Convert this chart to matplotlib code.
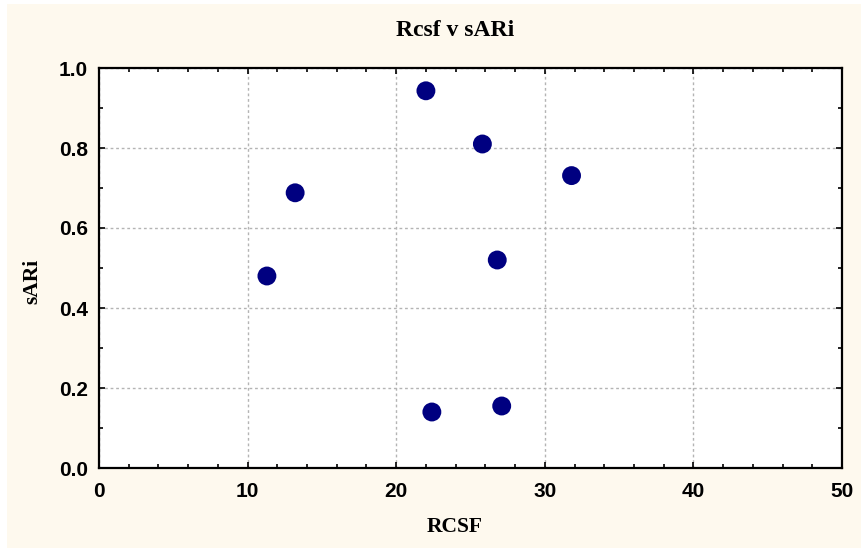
import numpy as np
import matplotlib.pyplot as plt
from matplotlib.patches import Rectangle
from matplotlib.ticker import MultipleLocator

rcsf = [11.3, 13.2, 22.0, 25.8, 31.8, 26.8, 22.4, 27.1]
sari = [0.48, 0.688, 0.943, 0.81, 0.731, 0.52, 0.14, 0.155]

fondo = '#FEF9EE'
W, H = 862, 548

fig = plt.figure(figsize=(8.62, 5.48), dpi=100, facecolor='white')
fig.patches.append(Rectangle((7/W, -0.05), 1.1, 1.05 - 4/H, transform=fig.transFigure,
                             facecolor=fondo, edgecolor='none', zorder=-10))

ax = fig.add_axes([99/W, 1 - 468/H, 743/W, 400/H])
ax.scatter(rcsf, sari, s=185, color='#000080', zorder=3, edgecolors='none')

ax.set_xlim(0, 50)
ax.set_ylim(0, 1.0)
ax.xaxis.set_major_locator(MultipleLocator(10))
ax.xaxis.set_minor_locator(MultipleLocator(2))
ax.yaxis.set_minor_locator(MultipleLocator(0.1))
ax.set_xticks(np.arange(0, 51, 10))
ax.set_xticklabels([f'{v:.0f}' for v in np.arange(0, 51, 10)])
ax.set_yticks(np.arange(0, 1.01, 0.2))
ax.set_yticklabels([f'{v:.1f}' for v in np.arange(0, 1.01, 0.2)])

ax.tick_params(which='both', direction='in', top=True, right=True, color='black')
ax.tick_params(which='major', length=4, width=1.2)
ax.tick_params(which='minor', length=3, width=1.2)
ax.tick_params(axis='x', which='major', pad=10)
ax.tick_params(axis='y', which='major', pad=8)
for lbl in ax.get_xticklabels() + ax.get_yticklabels():
    lbl.set_fontfamily('Liberation Sans')
    lbl.set_fontweight('bold')
    lbl.set_fontsize(15)

for s in ax.spines.values():
    s.set_linewidth(1.6)
    s.set_color('black')

ax.grid(True, which='major', linestyle=(0, (2, 2)), color='#b4b4b4', linewidth=1)
ax.set_axisbelow(True)

serif = dict(fontfamily='Liberation Serif', fontweight='bold', ha='center', va='center')
fig.text(455/W, 1 - 30/H, 'Rcsf v sARi', fontsize=17, **serif)
fig.text(455/W, 1 - 527/H, 'RCSF', fontsize=15.5, **serif)
fig.text(32/W, 1 - 281/H, 'sARi', fontsize=15.5, rotation=90, **serif)

plt.savefig('out.png', dpi=100, facecolor=fig.get_facecolor())
